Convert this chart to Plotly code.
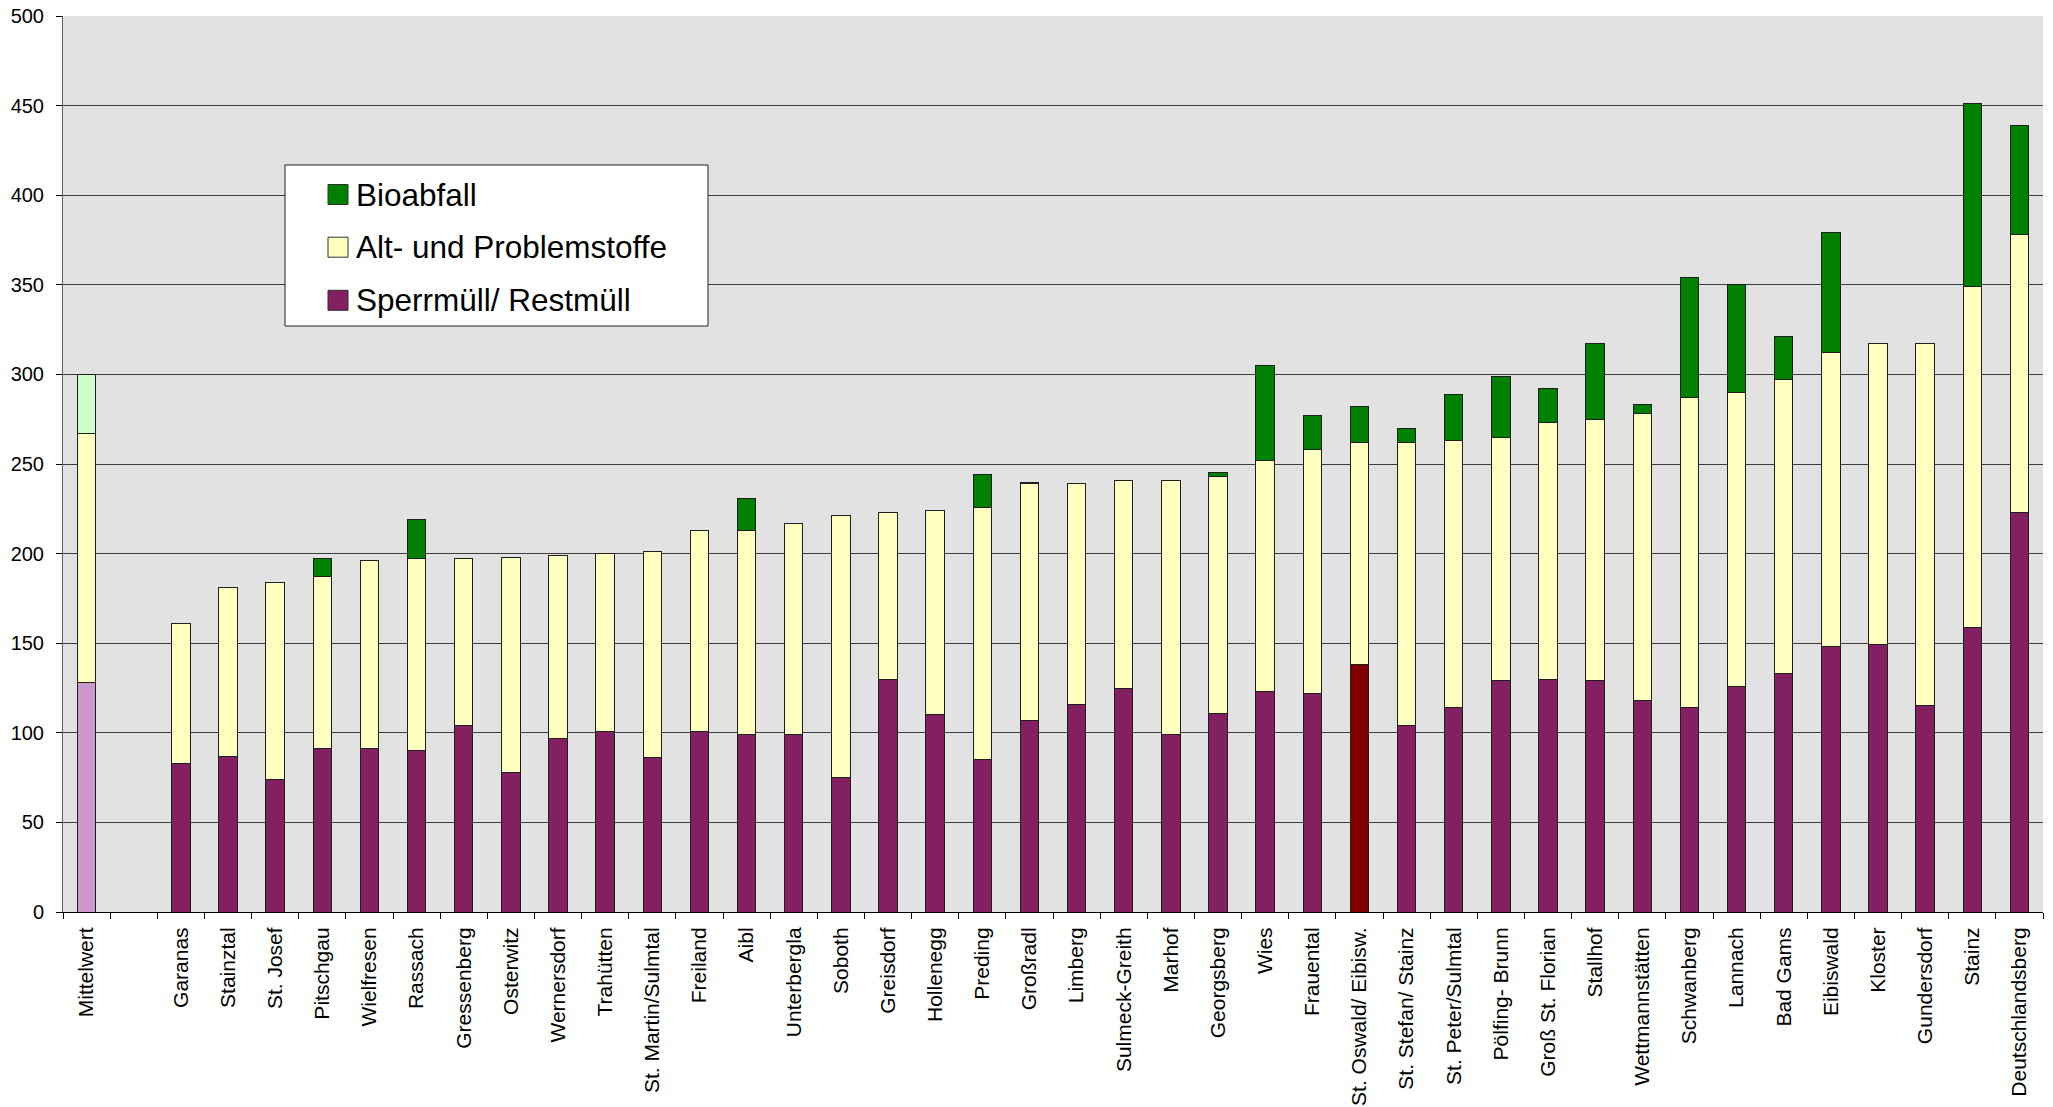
import plotly.graph_objects as go

# Abfallaufkommen je Gemeinde (kg pro Einwohner und Jahr)
gemeinden = [
    "Mittelwert", " ",
    "Garanas", "Stainztal", "St. Josef", "Pitschgau", "Wielfresen", "Rassach",
    "Gressenberg", "Osterwitz", "Wernersdorf", "Trahütten", "St. Martin/Sulmtal",
    "Freiland", "Aibl", "Unterbergla", "Soboth", "Greisdorf", "Hollenegg",
    "Preding", "Großradl", "Limberg", "Sulmeck-Greith", "Marhof", "Georgsberg",
    "Wies", "Frauental", "St. Oswald/ Eibisw.", "St. Stefan/ Stainz",
    "St. Peter/Sulmtal", "Pölfing- Brunn", "Groß St. Florian", "Stallhof",
    "Wettmannstätten", "Schwanberg", "Lannach", "Bad Gams", "Eibiswald",
    "Kloster", "Gundersdorf", "Stainz", "Deutschlandsberg",
]

restmuell = [
    128, None,
    83, 87, 74, 91, 91, 90,
    104, 78, 97, 101, 86,
    101, 99, 99, 75, 130, 110,
    85, 107, 116, 125, 99, 111,
    123, 122, 138, 104,
    114, 129, 130, 129,
    118, 114, 126, 133, 148,
    149, 115, 159, 223,
]

altstoffe = [
    139, None,
    78, 94, 110, 96, 105, 107,
    93, 120, 102, 99, 115,
    112, 114, 118, 146, 93, 114,
    141, 132, 123, 116, 142, 132,
    129, 136, 124, 158,
    149, 136, 143, 146,
    160, 173, 164, 164, 164,
    168, 202, 190, 155,
]

bioabfall = [
    33, None,
    None, None, None, 10, None, 22,
    None, None, None, None, None,
    None, 18, None, None, None, None,
    18, 0.5, None, None, None, 2,
    53, 19, 20, 8,
    26, 34, 19, 42,
    5, 67, 60, 24, 67,
    None, None, 102, 61,
]

y_ticks = [0, 50, 100, 150, 200, 250, 300, 350, 400, 450, 500]

serien = ["Bioabfall", "Alt- und Problemstoffe", "Sperrmüll/ Restmüll"]

# Farben: Mittelwert hell abgesetzt, Heimatgemeinde dunkelrot
C_REST, C_ALT, C_BIO = "#822062", "#FFFFC0", "#008000"
C_REST_MW, C_ALT_MW, C_BIO_MW = "#CC99CC", "#FFFFC0", "#CCFFCC"
C_REST_HL = "#800000"


def farben(basis, mittel, hervor=None):
    out = []
    for g in gemeinden:
        if g == "Mittelwert":
            out.append(mittel)
        elif hervor and g == "St. Oswald/ Eibisw.":
            out.append(hervor)
        else:
            out.append(basis)
    return out


W, H = 2053, 1107
ML, MR, MT, MB = 63, 10, 16, 195
PW, PH = W - ML - MR, H - MT - MB


def px_x(px):
    return (px - ML) / PW


def px_y(py):
    return (H - MB - py) / PH


outline = dict(color="#1e1e1e", width=1)

fig = go.Figure()
fig.add_trace(go.Bar(x=gemeinden, y=restmuell, name=serien[2],
                     marker=dict(color=farben(C_REST, C_REST_MW, C_REST_HL), line=outline)))
fig.add_trace(go.Bar(x=gemeinden, y=altstoffe, name=serien[1],
                     marker=dict(color=farben(C_ALT, C_ALT_MW), line=outline)))
fig.add_trace(go.Bar(x=gemeinden, y=bioabfall, name=serien[0],
                     marker=dict(color=farben(C_BIO, C_BIO_MW), line=outline)))

# Legende als Kasten mit Farbfeldern
shapes = [dict(type="rect", xref="paper", yref="paper",
               x0=px_x(285), x1=px_x(708), y0=px_y(326), y1=px_y(165),
               fillcolor="white", line=dict(color="#202020", width=1), layer="above")]
annotations = []
legend_rows = [(194.5, C_BIO, serien[0]), (247.2, C_ALT, serien[1]), (300.3, C_REST, serien[2])]
for cy, col, txt in legend_rows:
    shapes.append(dict(type="rect", xref="paper", yref="paper",
                       x0=px_x(328), x1=px_x(348), y0=px_y(cy + 10), y1=px_y(cy - 10),
                       fillcolor=col, line=dict(color="#303030", width=1), layer="above"))
    annotations.append(dict(xref="paper", yref="paper", x=px_x(354), y=px_y(cy),
                            text=txt, showarrow=False, xanchor="left", yanchor="middle",
                            font=dict(family="Liberation Sans, Arial, sans-serif",
                                      size=31.5, color="black")))

fig.update_layout(
    width=W, height=H, autosize=False,
    margin=dict(l=ML, r=MR, t=MT, b=MB, pad=0, autoexpand=False),
    paper_bgcolor="white", plot_bgcolor="#E2E2E2",
    barmode="stack", bargap=0.61,
    showlegend=False,
    shapes=shapes, annotations=annotations,
    xaxis=dict(
        type="category", categoryorder="array", categoryarray=gemeinden,
        tickson="boundaries", ticks="outside", ticklen=6, tickcolor="black",
        tickangle=-90, showline=True, linecolor="black", linewidth=1,
        showgrid=False, zeroline=False, automargin=False,
        tickfont=dict(family="Liberation Sans, Arial, sans-serif", size=21, color="black"),
        ticklabelstandoff=6,
    ),
    yaxis=dict(
        range=[0, 500], tickvals=y_ticks, ticks="outside", ticklen=6,
        tickcolor="black", showline=True, linecolor="#606060", linewidth=1,
        showgrid=True, gridcolor="#3c3c3c", gridwidth=1, zeroline=False,
        automargin=False,
        tickfont=dict(family="Liberation Sans, Arial, sans-serif", size=20, color="black"),
        ticklabelstandoff=8,
    ),
)

fig.write_html("out.html")
